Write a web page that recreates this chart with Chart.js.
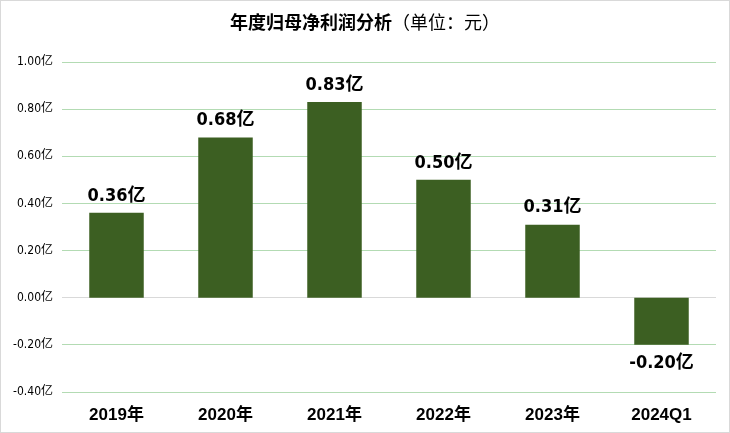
<!DOCTYPE html>
<html>
<head>
<meta charset="utf-8">
<script src="https://cdn.jsdelivr.net/npm/chart.js@4.4.1/dist/chart.umd.min.js"></script>
<style>
  html, body { margin: 0; padding: 0; background: #fff; }
  #wrap { position: relative; width: 728px; height: 431px; border: 1px solid #D9D9D9; }
  #title { position: absolute; left: 0; right: 0; top: 7px; text-align: center;
           font-family: 'Noto Sans CJK SC', sans-serif; font-size: 18px; color: #000; }
  #title b { font-weight: bold; }
  #title span { font-weight: normal; }
</style>
</head>
<body>
<div id="wrap">
  <canvas id="chart" width="728" height="431"></canvas>
  <div id="title"><b>年度归母净利润分析</b><span>（单位：元）</span></div>
</div>
<script>
// chart data
const categories = ["2019年", "2020年", "2021年", "2022年", "2023年", "2024Q1"];
const profitValues = [0.36, 0.68, 0.83, 0.50, 0.31, -0.20];
const yMin = -0.4, yMax = 1.0, yStep = 0.2;

const FONT = "'Liberation Sans', 'Noto Sans CJK SC', sans-serif";
const NARROW = "'Liberation Sans Narrow', 'DejaVu Sans Condensed', 'Noto Sans CJK SC', sans-serif";

// format like 0.36亿, no "-0.00"
const fmt = v => (Math.abs(v) < 1e-9 ? 0 : v).toFixed(2) + "亿";

// draw value labels above / below bars
const valueLabels = {
  id: 'valueLabels',
  afterDatasetsDraw(chart) {
    const ctx = chart.ctx;
    const meta = chart.getDatasetMeta(0);
    ctx.save();
    ctx.font = "bold 18px " + NARROW;
    ctx.fillStyle = "#000";
    ctx.textAlign = "center";
    meta.data.forEach((bar, i) => {
      const v = profitValues[i];
      if (v >= 0) {
        ctx.textBaseline = "bottom";
        ctx.fillText(fmt(v), bar.x, bar.y - 8);
      } else {
        ctx.textBaseline = "top";
        ctx.fillText(fmt(v), bar.x, bar.y + 9);
      }
    });
    ctx.restore();
  }
};

new Chart(document.getElementById("chart"), {
  type: 'bar',
  data: {
    labels: categories,
    datasets: [{
      data: profitValues,
      backgroundColor: "#3C5F22",
      categoryPercentage: 1.0,
      barPercentage: 0.5
    }]
  },
  options: {
    responsive: false,
    animation: false,
    layout: { padding: { top: 61, right: 13, left: 0, bottom: 0 } },
    plugins: { legend: { display: false }, tooltip: { enabled: false } },
    scales: {
      x: {
        grid: { display: false },
        border: { display: false },
        ticks: { color: "#000", font: { family: FONT, size: 17, weight: "bold" }, padding: 5 },
        afterFit: axis => { axis.height = 40; }
      },
      y: {
        min: yMin,
        max: yMax,
        grid: {
          color: ctx => (ctx.tick && Math.abs(ctx.tick.value) < 1e-6) ? "#D9D9D9" : "#B3DBB3",
          lineWidth: 1,
          drawTicks: false
        },
        border: { display: false },
        ticks: {
          stepSize: yStep,
          color: "#000",
          font: { family: NARROW, size: 12 },
          padding: 9,
          callback: v => fmt(v)
        },
        afterFit: axis => { axis.width = 61; }
      }
    }
  },
  plugins: [valueLabels]
});
</script>
</body>
</html>
